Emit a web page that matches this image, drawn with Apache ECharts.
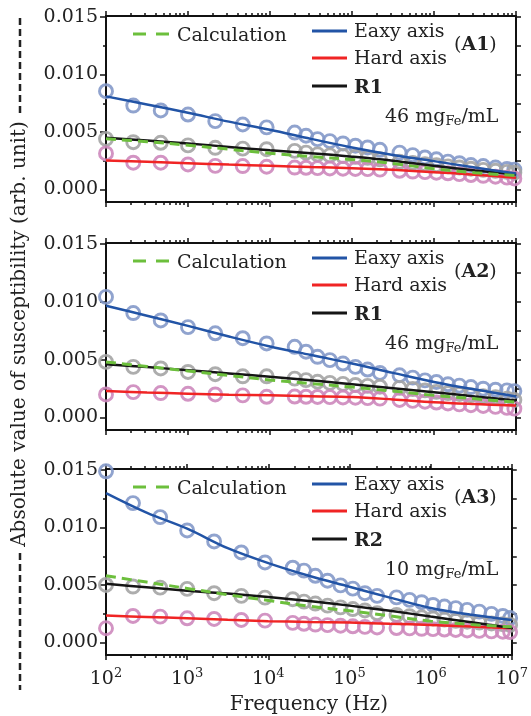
<!DOCTYPE html>
<html><head><meta charset="utf-8">
<script src="https://cdn.jsdelivr.net/npm/echarts@6/dist/echarts.min.js"></script>
<style>html,body{margin:0;padding:0;background:#fff}#c{width:531px;height:716px}</style>
</head><body><div id="c"></div>
<script>
// ---- data ----
const freqHz = [100, 215, 465, 1000, 2150, 4650, 9100, 20000, 27500, 38000, 53700, 77600, 110000, 155000, 219000, 380000, 550000, 776000, 1070000, 1480000, 2040000, 2820000, 3980000, 5620000, 7760000, 9550000];
const fitFreq = [100, 316, 1000, 3160, 10000, 31600, 100000, 316000, 1000000, 3160000, 10000000];

const a1Easy = [0.00855,0.00730,0.00687,0.00652,0.00594,0.00565,0.00540,0.00495,0.00467,0.00438,0.00420,0.00400,0.00380,0.00365,0.00345,0.00320,0.00298,0.00278,0.00262,0.00242,0.00228,0.00212,0.00203,0.00190,0.00178,0.00172];
const a1Hard = [0.00313,0.00232,0.00232,0.00217,0.00205,0.00203,0.00197,0.00190,0.00188,0.00185,0.00182,0.00180,0.00178,0.00176,0.00172,0.00162,0.00155,0.00150,0.00145,0.00140,0.00133,0.00125,0.00118,0.00110,0.00102,0.00095];
const a1R = [0.00440,0.00411,0.00406,0.00383,0.00362,0.00355,0.00350,0.00335,0.00320,0.00305,0.00296,0.00290,0.00284,0.00275,0.00262,0.00240,0.00230,0.00220,0.00210,0.00200,0.00190,0.00180,0.00170,0.00162,0.00152,0.00145];
const a1EasyFit = [0.00810,0.00740,0.00667,0.00590,0.00520,0.00440,0.00365,0.00300,0.00246,0.00190,0.00139];
const a1HardFit = [0.00252,0.00240,0.00228,0.00216,0.00205,0.00195,0.00185,0.00170,0.00150,0.00128,0.00102];
const a1RFit = [0.00450,0.00425,0.00400,0.00370,0.00340,0.00315,0.00285,0.00250,0.00205,0.00165,0.00130];
const a1Calc = [0.00440,0.00415,0.00385,0.00350,0.00315,0.00285,0.00260,0.00225,0.00180,0.00145,0.00120];

const a2Easy = [0.01043,0.00903,0.00839,0.00781,0.00728,0.00685,0.00640,0.00611,0.00568,0.00524,0.00495,0.00466,0.00437,0.00414,0.00384,0.00364,0.00344,0.00320,0.00306,0.00286,0.00274,0.00262,0.00248,0.00239,0.00233,0.00227];
const a2Hard = [0.00198,0.00218,0.00210,0.00204,0.00198,0.00190,0.00178,0.00180,0.00178,0.00176,0.00175,0.00172,0.00170,0.00166,0.00162,0.00150,0.00142,0.00135,0.00128,0.00120,0.00112,0.00105,0.00098,0.00090,0.00082,0.00075];
const a2R = [0.00480,0.00437,0.00423,0.00393,0.00373,0.00355,0.00355,0.00335,0.00322,0.00308,0.00298,0.00290,0.00280,0.00272,0.00265,0.00255,0.00245,0.00233,0.00220,0.00210,0.00202,0.00192,0.00182,0.00174,0.00162,0.00150];
const a2EasyFit = [0.00967,0.00880,0.00792,0.00700,0.00614,0.00540,0.00466,0.00385,0.00306,0.00240,0.00181];
const a2HardFit = [0.00227,0.00215,0.00205,0.00195,0.00190,0.00182,0.00175,0.00155,0.00131,0.00115,0.00102];
const a2RFit = [0.00460,0.00435,0.00408,0.00380,0.00352,0.00320,0.00286,0.00252,0.00218,0.00180,0.00146];
const a2Calc = [0.00480,0.00440,0.00402,0.00362,0.00324,0.00292,0.00262,0.00227,0.00190,0.00160,0.00131];

const a3Easy = [0.01490,0.01213,0.01091,0.00975,0.00879,0.00783,0.00696,0.00650,0.00625,0.00580,0.00537,0.00496,0.00468,0.00428,0.00405,0.00392,0.00370,0.00350,0.00326,0.00312,0.00298,0.00283,0.00268,0.00248,0.00230,0.00212];
const a3Hard = [0.00123,0.00230,0.00224,0.00210,0.00204,0.00195,0.00189,0.00170,0.00162,0.00155,0.00150,0.00145,0.00140,0.00135,0.00130,0.00125,0.00122,0.00118,0.00115,0.00112,0.00108,0.00104,0.00100,0.00096,0.00093,0.00090];
const a3R = [0.00500,0.00486,0.00477,0.00466,0.00428,0.00405,0.00390,0.00376,0.00355,0.00338,0.00320,0.00305,0.00290,0.00278,0.00255,0.00239,0.00228,0.00218,0.00208,0.00198,0.00188,0.00180,0.00172,0.00165,0.00158,0.00152];
const a3EasyFit = [0.01300,0.01130,0.00990,0.00820,0.00690,0.00580,0.00485,0.00390,0.00300,0.00240,0.00195];
const a3HardFit = [0.00233,0.00222,0.00210,0.00196,0.00185,0.00178,0.00172,0.00162,0.00152,0.00138,0.00123];
const a3RFit = [0.00510,0.00480,0.00450,0.00425,0.00395,0.00360,0.00320,0.00275,0.00225,0.00175,0.00125];
const a3Calc = [0.00580,0.00525,0.00470,0.00415,0.00365,0.00315,0.00275,0.00230,0.00185,0.00155,0.00135];

const panelLabels = ['A1', 'A2', 'A3'];
const refLabels = ['R1', 'R1', 'R2'];
const concLabels = ['46', '46', '10'];
const legendNames = ['Calculation', 'Eaxy axis', 'Hard axis'];
const yMajorTicks = [0, 0.005, 0.010, 0.015];
const yMinorTicks = [0.0025, 0.0075, 0.0125];
const yRightTicks = [0, 0.0025, 0.005, 0.0075, 0.010, 0.0125, 0.015];
const xMinorTicks = [200,300,400,500,600,700,800,900,2000,3000,4000,5000,6000,7000,8000,9000,
  20000,30000,40000,50000,60000,70000,80000,90000,200000,300000,400000,500000,600000,700000,800000,900000,
  2000000,3000000,4000000,5000000,6000000,7000000,8000000,9000000];
const xTitle = 'Frequency (Hz)';
const yTitle = 'Absolute value of susceptibility (arb. unit)';

const panels = [
  {easy:a1Easy, hard:a1Hard, r:a1R, easyFit:a1EasyFit, hardFit:a1HardFit, rFit:a1RFit, calc:a1Calc},
  {easy:a2Easy, hard:a2Hard, r:a2R, easyFit:a2EasyFit, hardFit:a2HardFit, rFit:a2RFit, calc:a2Calc},
  {easy:a3Easy, hard:a3Hard, r:a3R, easyFit:a3EasyFit, hardFit:a3HardFit, rFit:a3RFit, calc:a3Calc}
];

// ---- style ----
const FONT = '"DejaVu Serif", "Liberation Serif", serif';
const TXT = '#222';
const C = {blue:'#2254a6', red:'#f02424', black:'#151515', green:'#6cbf3c',
           cBlue:'#8499c9', cGray:'#a4a4a4', cPink:'#cd88bd'};
const panelTops = [16, 243, 469];
const panelHeights = [186, 187, 186];
const yMin = -0.0011, yMax = 0.0151;

const chart = echarts.init(document.getElementById('c'));
const grids = [], xAxes = [], yAxes = [], series = [], graphics = [];
const axisLineStyle = {color:'#111', width:2};
const tickStyle = {color:'#111', width:1.5};

panels.forEach((p, i) => {
  const T = panelTops[i], H = panelHeights[i];
  grids.push({left:106, right:15, top:T, height:H});
  grids.push({left:106, right:15, top:T, height:H});
  const gD = 2*i, gM = 2*i+1, last = (i === 2);
  const xi = xAxes.length, yi = yAxes.length;
  xAxes.push({gridIndex:gD, type:'log', logBase:10, min:100, max:1e7, position:'bottom',
    axisLine:{show:true, onZero:false, lineStyle:axisLineStyle},
    axisTick:{show:true, inside:false, length:5, lineStyle:tickStyle},
    splitLine:{show:false},
    axisLabel:{show:last, margin:12, color:TXT,
      formatter: v => '{b|10}{e|' + Math.round(Math.log10(v)) + '}',
      rich:{b:{fontFamily:FONT, fontSize:19, color:TXT}, e:{fontFamily:FONT, fontSize:13, color:TXT, padding:[0,0,11,0]}}},
    name: last ? xTitle : '', nameLocation:'middle', nameGap:40,
    nameTextStyle:{fontFamily:FONT, fontSize:20, color:TXT}});
  xAxes.push({gridIndex:gD, type:'log', logBase:10, min:100, max:1e7, position:'top',
    axisLine:{show:true, onZero:false, lineStyle:axisLineStyle},
    axisTick:{show:true, inside:false, length:5, lineStyle:tickStyle},
    splitLine:{show:false}, axisLabel:{show:false}});
  xAxes.push({gridIndex:gM, type:'value', min:2, max:7, position:'bottom',
    axisLine:{show:false, onZero:false},
    axisTick:{show:true, length:3, customValues:xMinorTicks.map(v => Math.log10(v)), lineStyle:tickStyle},
    splitLine:{show:false}, axisLabel:{show:false}});
  xAxes.push({gridIndex:gM, type:'value', min:2, max:7, position:'top',
    axisLine:{show:false, onZero:false},
    axisTick:{show:true, length:3, customValues:xMinorTicks.map(v => Math.log10(v)), lineStyle:tickStyle},
    splitLine:{show:false}, axisLabel:{show:false}});
  yAxes.push({gridIndex:gD, type:'value', min:yMin, max:yMax, position:'left',
    axisLine:{show:true, onZero:false, lineStyle:axisLineStyle},
    axisTick:{show:true, length:6, customValues:yMajorTicks, lineStyle:tickStyle},
    splitLine:{show:false},
    axisLabel:{customValues:yMajorTicks, formatter: v => v.toFixed(3), margin:8,
      fontFamily:FONT, fontSize:19, color:TXT}});
  yAxes.push({gridIndex:gD, type:'value', min:yMin, max:yMax, position:'right',
    axisLine:{show:true, onZero:false, lineStyle:axisLineStyle},
    axisTick:{show:true, length:5, customValues:yRightTicks, lineStyle:tickStyle},
    splitLine:{show:false}, axisLabel:{show:false}});
  yAxes.push({gridIndex:gM, type:'value', min:yMin, max:yMax, position:'left',
    axisLine:{show:false, onZero:false},
    axisTick:{show:true, length:3, customValues:yMinorTicks, lineStyle:tickStyle},
    splitLine:{show:false}, axisLabel:{show:false}});

  const sc = (name, arr, color) => ({type:'scatter', name, xAxisIndex:xi, yAxisIndex:yi,
    data: freqHz.map((f, k) => [f, arr[k]]), symbol:'circle', symbolSize:13, clip:false, z:2,
    itemStyle:{color:'rgba(255,255,255,0)', borderColor:color, borderWidth:2.9, opacity:0.9}});
  const ln = (name, arr, color, dashed) => ({type:'line', name, xAxisIndex:xi, yAxisIndex:yi,
    data: fitFreq.map((f, k) => [f, arr[k]]), smooth:0.35, symbol:'none', z:3,
    lineStyle:{color, width: dashed ? 3 : 2.5, type: dashed ? [10, 6] : 'solid'}});
  series.push(sc('Easy data', p.easy, C.cBlue));
  series.push(sc('R data', p.r, C.cGray));
  series.push(sc('Hard data', p.hard, C.cPink));
  series.push(ln('Hard axis', p.hardFit, C.red));
  series.push(ln(refLabels[i], p.rFit, C.black));
  series.push(ln('Eaxy axis', p.easyFit, C.blue));
  series.push(ln('Calculation', p.calc, C.green, true));

  // legend & annotations
  const txt = (x, y, text, extra) => ({type:'text', x, y, z:10, style:Object.assign({text, fontFamily:FONT, fontSize:19, fill:TXT, align:'left', verticalAlign:'middle'}, extra || {})});
  const seg = (x1, x2, y, color, dash) => ({type:'line', z:10, shape:{x1, y1:y, x2, y2:y}, style:{stroke:color, lineWidth:3, lineDash: dash || null}});
  graphics.push(seg(133, 170, T+18, C.green, [13, 10]));
  graphics.push(txt(177, T+20.5, legendNames[0]));
  graphics.push(seg(312, 347, T+15, C.blue));
  graphics.push(txt(354, T+16, legendNames[1]));
  graphics.push(seg(312, 347, T+42, C.red));
  graphics.push(txt(354, T+43, legendNames[2]));
  graphics.push(seg(312, 347, T+70, C.black));
  graphics.push(txt(354, T+72, refLabels[i], {fontWeight:'bold'}));
  graphics.push(txt(454, T+29, '{n|(}{b|' + panelLabels[i] + '}{n|)}', {rich:{
    n:{fontFamily:FONT, fontSize:19, fill:TXT}, b:{fontFamily:FONT, fontSize:19, fontWeight:'bold', fill:TXT}}}));
  graphics.push(txt(385, T+101, '{n|' + concLabels[i] + ' mg}{s|Fe}{n|/mL}', {rich:{
    n:{fontFamily:FONT, fontSize:19, fill:TXT}, s:{fontFamily:FONT, fontSize:13, fill:TXT, padding:[10,0,0,0]}}}));
});

// y title with dashed leaders
graphics.push({type:'line', shape:{x1:20, y1:18, x2:20, y2:115}, style:{stroke:'#222', lineWidth:2.5, lineDash:[7,4]}});
graphics.push({type:'line', shape:{x1:20, y1:553, x2:20, y2:690}, style:{stroke:'#222', lineWidth:2.5, lineDash:[7,4]}});
graphics.push({type:'text', x:20, y:334, rotation:Math.PI/2, style:{text:yTitle, fontFamily:FONT, fontSize:20, fill:TXT, align:'center', verticalAlign:'middle'}});

chart.setOption({animation:false, backgroundColor:'#fff', grid:grids, xAxis:xAxes, yAxis:yAxes, series, graphic:graphics});
</script></body></html>
